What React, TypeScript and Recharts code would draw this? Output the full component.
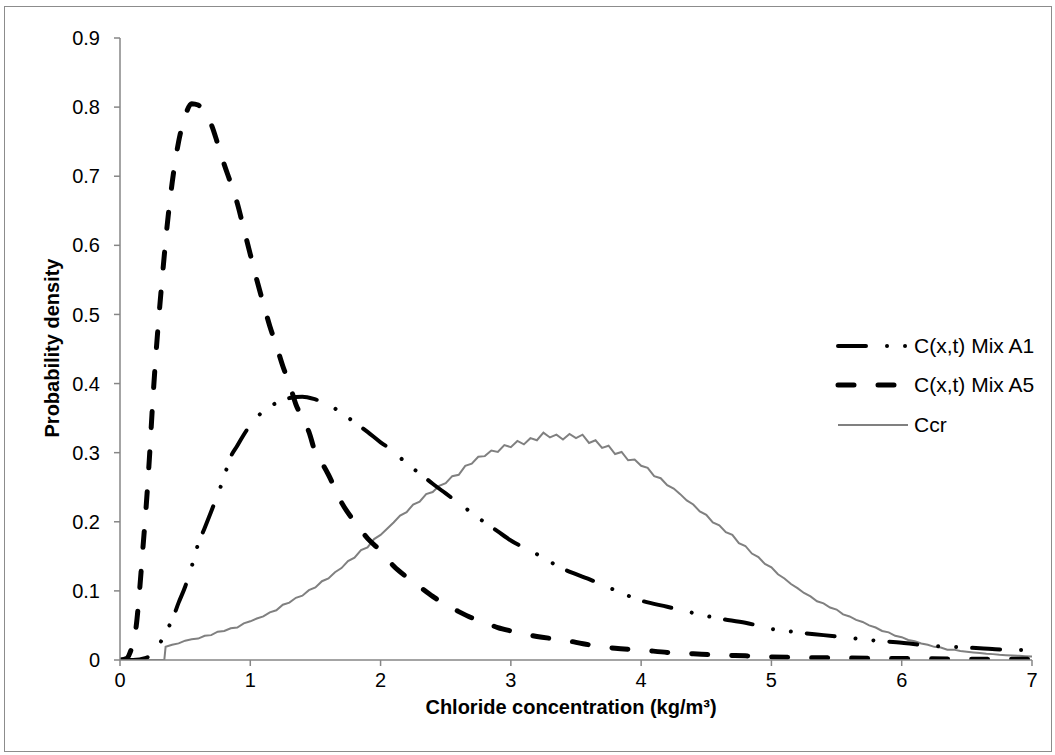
import React from 'react';
import { LineChart, Line, XAxis, YAxis } from 'recharts';

// chloride concentration (kg/m3) -> probability density
const a1X = [0, 0.1, 0.2, 0.25, 0.3, 0.35, 0.4, 0.45, 0.5, 0.55, 0.6, 0.65, 0.7, 0.75, 0.8, 0.85, 0.9, 0.95, 1.0, 1.1, 1.2, 1.3, 1.4, 1.5, 1.6, 1.7, 1.8, 1.9, 2.0, 2.1, 2.2, 2.3, 2.4, 2.5, 2.6, 2.7, 2.8, 2.9, 3.0, 3.2, 3.4, 3.6, 3.8, 4.0, 4.2, 4.4, 4.6, 4.8, 5.0, 5.2, 5.4, 5.6, 5.8, 6.0, 6.2, 6.4, 6.6, 6.8, 7.0];
const a1Y = [0, 0, 0.003, 0.01, 0.022, 0.04, 0.058, 0.083, 0.106, 0.135, 0.168, 0.191, 0.215, 0.239, 0.266, 0.294, 0.31, 0.326, 0.34, 0.36, 0.372, 0.379, 0.381, 0.377, 0.37, 0.357, 0.344, 0.33, 0.315, 0.302, 0.284, 0.27, 0.255, 0.241, 0.227, 0.213, 0.199, 0.186, 0.173, 0.153, 0.132, 0.117, 0.101, 0.086, 0.077, 0.068, 0.06, 0.054, 0.045, 0.04, 0.036, 0.032, 0.028, 0.025, 0.021, 0.019, 0.017, 0.015, 0.0145];

const a5X = [0, 0.05, 0.08, 0.1, 0.125, 0.15, 0.175, 0.2, 0.225, 0.25, 0.275, 0.3, 0.33, 0.36, 0.4, 0.45, 0.5, 0.55, 0.6, 0.65, 0.7, 0.75, 0.8, 0.85, 0.9, 0.95, 1.0, 1.05, 1.1, 1.15, 1.2, 1.25, 1.3, 1.35, 1.4, 1.45, 1.5, 1.55, 1.6, 1.7, 1.8, 1.9, 2.0, 2.1, 2.2, 2.3, 2.4, 2.5, 2.6, 2.7, 2.8, 2.9, 3.0, 3.2, 3.4, 3.6, 3.8, 4.0, 4.2, 4.4, 4.6, 4.8, 5.0, 5.5, 6.0, 6.5, 7.0];
const a5Y = [0, 0.002, 0.012, 0.025, 0.05, 0.1, 0.16, 0.22, 0.29, 0.37, 0.44, 0.5, 0.565, 0.625, 0.69, 0.75, 0.787, 0.805, 0.803, 0.79, 0.775, 0.747, 0.717, 0.69, 0.661, 0.624, 0.587, 0.55, 0.516, 0.483, 0.455, 0.425, 0.4, 0.37, 0.35, 0.33, 0.3, 0.285, 0.268, 0.228, 0.2, 0.176, 0.158, 0.136, 0.12, 0.106, 0.092, 0.08, 0.07, 0.061, 0.054, 0.047, 0.042, 0.034, 0.029, 0.022, 0.017, 0.0145, 0.011, 0.009, 0.007, 0.006, 0.0045, 0.003, 0.0022, 0.0012, 0.001];

const ccrX = [0, 0.3, 0.34, 0.35, 0.4, 0.45, 0.5, 0.55, 0.6, 0.65, 0.7, 0.75, 0.8, 0.85, 0.9, 0.95, 1.0, 1.05, 1.1, 1.15, 1.2, 1.25, 1.3, 1.35, 1.4, 1.45, 1.5, 1.55, 1.6, 1.65, 1.7, 1.75, 1.8, 1.85, 1.9, 1.95, 2.0, 2.05, 2.1, 2.15, 2.2, 2.25, 2.3, 2.35, 2.4, 2.45, 2.5, 2.55, 2.6, 2.65, 2.7, 2.75, 2.8, 2.85, 2.9, 2.95, 3.0, 3.05, 3.1, 3.15, 3.2, 3.25, 3.3, 3.35, 3.4, 3.45, 3.5, 3.55, 3.6, 3.65, 3.7, 3.75, 3.8, 3.85, 3.9, 3.95, 4.0, 4.05, 4.1, 4.15, 4.2, 4.25, 4.3, 4.35, 4.4, 4.45, 4.5, 4.55, 4.6, 4.65, 4.7, 4.75, 4.8, 4.85, 4.9, 4.95, 5.0, 5.05, 5.1, 5.15, 5.2, 5.25, 5.3, 5.35, 5.4, 5.45, 5.5, 5.55, 5.6, 5.65, 5.7, 5.75, 5.8, 5.85, 5.9, 5.95, 6.0, 6.05, 6.1, 6.15, 6.2, 6.25, 6.3, 6.35, 6.4, 6.45, 6.5, 6.55, 6.6, 6.65, 6.7, 6.75, 6.8, 6.85, 6.9, 6.95, 7.0];
const ccrY = [0, 0, 0, 0.019, 0.022, 0.024, 0.028, 0.03, 0.031, 0.035, 0.036, 0.041, 0.042, 0.046, 0.047, 0.053, 0.056, 0.06, 0.063, 0.069, 0.072, 0.08, 0.083, 0.09, 0.093, 0.101, 0.105, 0.114, 0.118, 0.127, 0.133, 0.143, 0.148, 0.159, 0.163, 0.175, 0.181, 0.19, 0.199, 0.209, 0.214, 0.225, 0.229, 0.24, 0.243, 0.252, 0.256, 0.266, 0.268, 0.281, 0.284, 0.294, 0.295, 0.303, 0.301, 0.311, 0.308, 0.317, 0.312, 0.321, 0.318, 0.329, 0.322, 0.326, 0.319, 0.327, 0.321, 0.326, 0.314, 0.318, 0.307, 0.31, 0.298, 0.301, 0.289, 0.29, 0.281, 0.278, 0.266, 0.263, 0.253, 0.248, 0.24, 0.231, 0.225, 0.215, 0.21, 0.199, 0.195, 0.185, 0.181, 0.169, 0.165, 0.154, 0.149, 0.139, 0.134, 0.124, 0.118, 0.11, 0.104, 0.097, 0.092, 0.085, 0.082, 0.076, 0.073, 0.066, 0.063, 0.058, 0.055, 0.05, 0.047, 0.042, 0.04, 0.035, 0.033, 0.029, 0.027, 0.024, 0.022, 0.019, 0.018, 0.015, 0.015, 0.013, 0.012, 0.011, 0.01, 0.009, 0.0085, 0.0075, 0.007, 0.0065, 0.006, 0.0055, 0.005];

const xTicks = [0, 1, 2, 3, 4, 5, 6, 7];
const yTicks = [0, 0.1, 0.2, 0.3, 0.4, 0.5, 0.6, 0.7, 0.8, 0.9];

const FONT = '"Liberation Sans", Arial, sans-serif';
const AXIS = '#868686';
const A1_DASH = '28 21 0.01 18 0.01 16';
const A5_DASH = '16 24';

const toPoints = (xs: number[], ys: number[]) => xs.map((x, i) => ({ x, y: ys[i] }));

const series = [
  { name: 'C(x,t) Mix A1', color: '#000', width: 4, dash: A1_DASH },
  { name: 'C(x,t) Mix A5', color: '#000', width: 5, dash: A5_DASH },
  { name: 'Ccr', color: '#808080', width: 2, dash: undefined },
];

const LegendBox = () => (
  <div style={{ position: 'absolute', left: 834, top: 326, width: 218, fontFamily: FONT, fontSize: 21, color: '#000' }}>
    {series.map((s) => (
      <div key={s.name} style={{ display: 'flex', alignItems: 'center', height: 39.5 }}>
        <svg width={80} height={12}>
          <line
            x1={4}
            y1={6}
            x2={74}
            y2={6}
            stroke={s.color}
            strokeWidth={s.width}
            strokeDasharray={s.dash}
            strokeLinecap={s.dash ? 'round' : 'butt'}
          />
        </svg>
        <span style={{ whiteSpace: 'nowrap' }}>{s.name}</span>
      </div>
    ))}
  </div>
);

export default function App() {
  return (
    <div style={{ position: 'absolute', left: 0, top: 0, width: 1055, height: 755, background: '#fff' }}>
      <div
        style={{
          position: 'absolute',
          left: 4,
          top: 6,
          width: 1046,
          height: 744,
          border: '1px solid #8c8c8c',
        }}
      />
      <LineChart
        width={1055}
        height={755}
        margin={{ top: 38, right: 23, bottom: 35, left: 60 }}
        style={{ position: 'absolute', left: 0, top: 0 }}
      >
        <XAxis
          dataKey="x"
          type="number"
          domain={[0, 7]}
          ticks={xTicks}
          allowDataOverflow
          height={60}
          stroke={AXIS}
          strokeWidth={1.5}
          tickSize={6}
          tickMargin={7}
          tick={{ fill: '#000', fontSize: 20, fontFamily: FONT }}
          label={() => (
            <text x={571} y={714} textAnchor="middle" fontFamily={FONT} fontSize={20} fontWeight="bold" fill="#000">
              Chloride concentration (kg/m³)
            </text>
          )}
        />
        <YAxis
          dataKey="y"
          type="number"
          domain={[0, 0.9]}
          ticks={yTicks}
          allowDataOverflow
          width={60}
          stroke={AXIS}
          strokeWidth={1.5}
          tickSize={6}
          tickMargin={14}
          tickFormatter={(v: number) => (v === 0 ? '0' : v.toFixed(1))}
          tick={{ fill: '#000', fontSize: 20, fontFamily: FONT }}
          label={() => (
            <text
              x={59}
              y={348}
              transform="rotate(-90 59 348)"
              textAnchor="middle"
              fontFamily={FONT}
              fontSize={20}
              fontWeight="bold"
              fill="#000"
            >
              Probability density
            </text>
          )}
        />
        <Line
          data={toPoints(ccrX, ccrY)}
          dataKey="y"
          name="Ccr"
          type="linear"
          stroke="#808080"
          strokeWidth={2}
          dot={false}
          activeDot={false}
          isAnimationActive={false}
        />
        <Line
          data={toPoints(a1X, a1Y)}
          dataKey="y"
          name="C(x,t) Mix A1"
          type="monotone"
          stroke="#000"
          strokeWidth={4}
          strokeDasharray={A1_DASH}
          strokeLinecap="round"
          dot={false}
          activeDot={false}
          isAnimationActive={false}
        />
        <Line
          data={toPoints(a5X, a5Y)}
          dataKey="y"
          name="C(x,t) Mix A5"
          type="monotone"
          stroke="#000"
          strokeWidth={5}
          strokeDasharray={A5_DASH}
          strokeLinecap="round"
          dot={false}
          activeDot={false}
          isAnimationActive={false}
        />
      </LineChart>
      <LegendBox />
    </div>
  );
}
